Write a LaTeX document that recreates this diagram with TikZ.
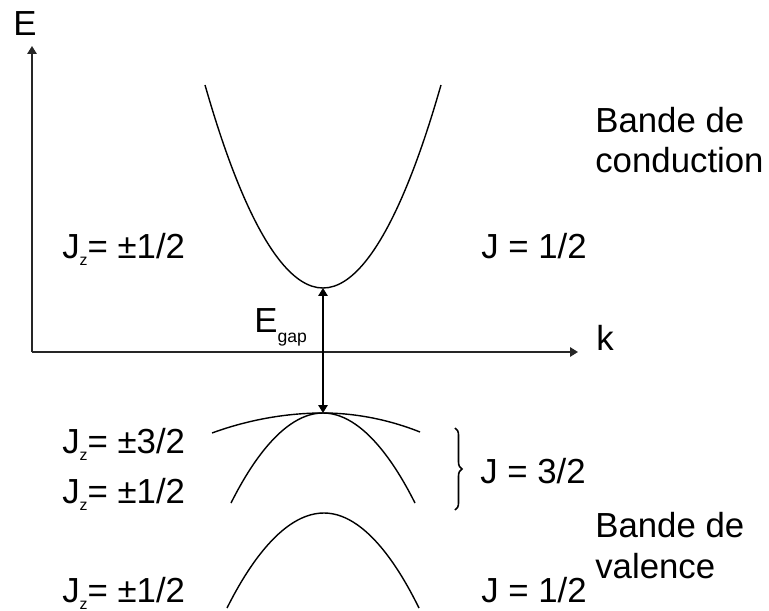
\documentclass[tikz,border=0pt]{standalone}
\usepackage{fontspec}
\setmainfont{Liberation Sans}
\usepackage{tikz}
\usetikzlibrary{arrows.meta, decorations.pathreplacing}
\newcommand{\lbl}{\fontsize{19.8}{22}\selectfont}
\newcommand{\jsub}[1]{\raisebox{-4pt}{\fontsize{9}{10}\selectfont #1}}

\begin{document}
\begin{tikzpicture}[
  x=0.02cm, y=0.02cm,
  >={Triangle[length=1.6mm, width=1.9mm]},
  every node/.style={font=\lbl, inner sep=0pt, anchor=base west},
  axis/.style={->, line width=0.8pt, black!85},
  band/.style={line width=0.8pt},
  gap/.style={<->, line width=0.8pt}
]
\useasboundingbox (0,0) rectangle (769,610);
% axes
\coordinate (O) at (32,258);
\coordinate (Etop) at (32,564);
\coordinate (kend) at (578,258);
\draw[axis] (O) -- (Etop);
\draw[axis] (O) -- (kend);
\node (lblE) at (13,575) {E};
\node (lblk) at (596,260) {k};
% bands
\coordinate (cbmin) at (323,322);
\coordinate (vbmax) at (323,197);
\draw[band] (205,525) parabola bend (cbmin) (441,525);
\draw[band] (212,177) parabola bend (vbmax) (420,178);
\draw[band] (231,107) parabola bend (vbmax) (415,107);
\draw[band] (227,2) parabola bend (324,97) (419,2);
% gap
\draw[gap] (cbmin) -- (vbmax);
\node (lblgap) at (254,278) {E\raisebox{-6pt}{\fontsize{10}{11}\selectfont gap}};
% labels
\node (cbjz)  at (62,352) {J\jsub{z}= ±1/2};
\node (cbj)   at (481,352) {J = 1/2};
\node (cbt1)  at (595,478) {Bande de};
\node (cbt2)  at (595,438) {conduction};
\node (hhjz)  at (62,157) {J\jsub{z}= ±3/2};
\node (lhjz)  at (62,107) {J\jsub{z}= ±1/2};
\node (vbj)   at (480,127) {J = 3/2};
\node (vbt1)  at (595,73) {Bande de};
\node (vbt2)  at (595,32) {valence};
\node (sojz)  at (62,8) {J\jsub{z}= ±1/2};
\node (soj)   at (481,8) {J = 1/2};
\coordinate (brtop) at (455,182);
\coordinate (brbot) at (455,100);
\draw[line width=0.9pt, decorate, decoration={brace, amplitude=4pt}] (brtop) -- (brbot);
\end{tikzpicture}
\end{document}
